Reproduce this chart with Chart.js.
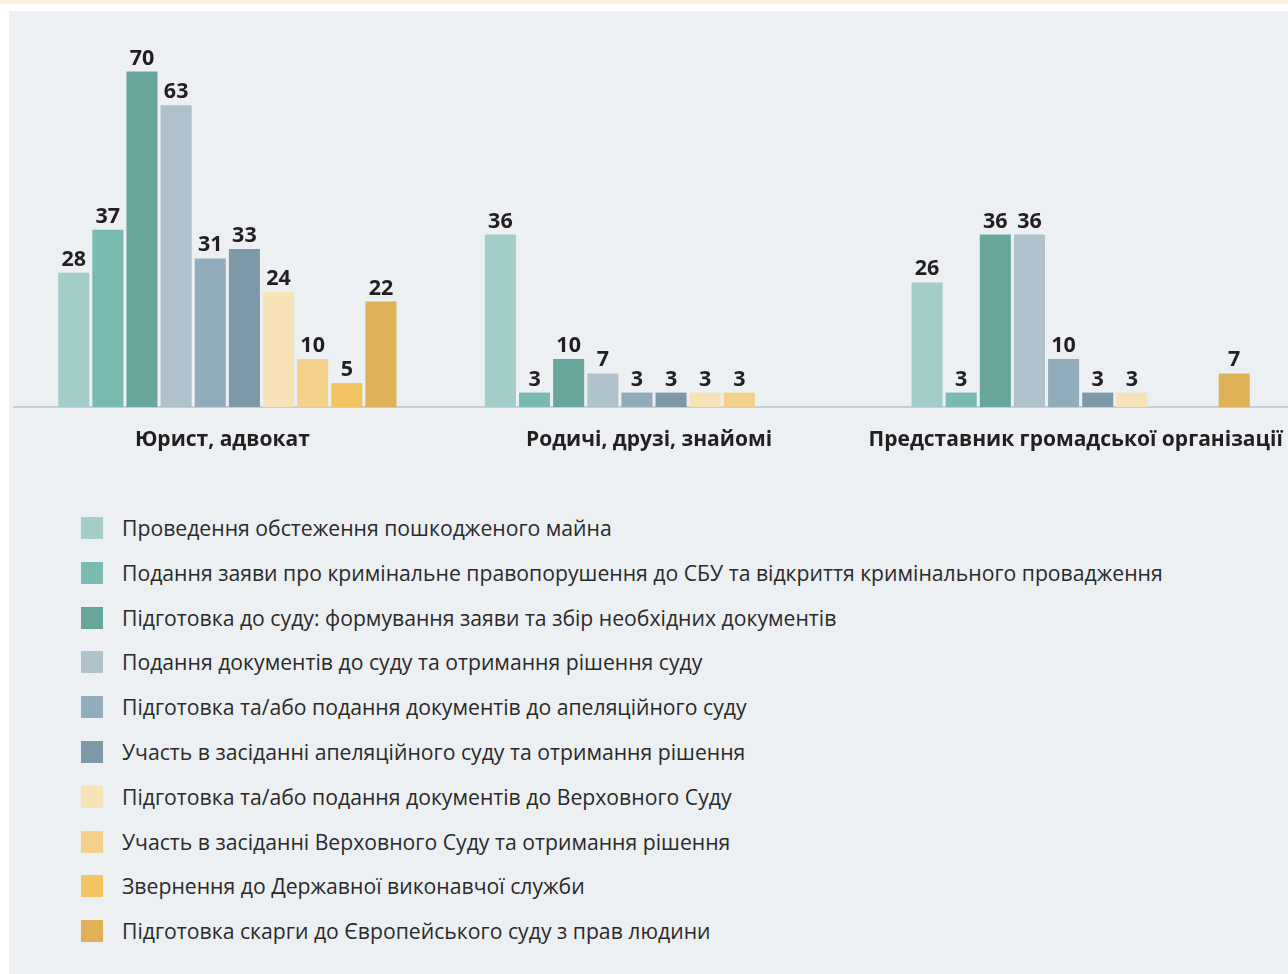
<!DOCTYPE html>
<html>
<head>
<meta charset="utf-8">
<script src="https://cdn.jsdelivr.net/npm/chart.js@4/dist/chart.umd.min.js"></script>
<style>
  html, body { margin: 0; padding: 0; width: 1288px; height: 974px; overflow: hidden; background: #ffffff; }
  #strip { position: absolute; left: 0; top: 0; width: 1288px; height: 4px; background: #fbf1dc; }
  #panel { position: absolute; left: 9px; top: 11px; width: 1279px; height: 963px; background: #edf0f3; }
  #wrap { position: absolute; left: 0; top: 0; width: 1300px; height: 470px; }
  #legend { position: absolute; left: 81px; top: 517px; margin: 0; padding: 0; list-style: none;
            font-family: 'Open Sans', sans-serif; font-size: 21.2px; color: #2a2a2a; }
  #legend li { height: 44.8px; display: flex; align-items: flex-start; white-space: nowrap; }
  #legend .box { width: 22px; height: 22px; margin-right: 19px; flex: none; }
  #legend .txt { line-height: 22px; }
</style>
</head>
<body>
<div id="strip"></div>
<div id="panel"></div>
<div id="wrap"><canvas id="c" width="1300" height="470"></canvas></div>
<ul id="legend"></ul>
<script>
const categories = ['Юрист, адвокат', 'Родичі, друзі, знайомі', 'Представник громадської організації'];

const seriesNames = [
  'Проведення обстеження пошкодженого майна',
  'Подання заяви про кримінальне правопорушення до СБУ та відкриття кримінального провадження',
  'Підготовка до суду: формування заяви та збір необхідних документів',
  'Подання документів до суду та отримання рішення суду',
  'Підготовка та/або подання документів до апеляційного суду',
  'Участь в засіданні апеляційного суду та отримання рішення',
  'Підготовка та/або подання документів до Верховного Суду',
  'Участь в засіданні Верховного Суду та отримання рішення',
  'Звернення до Державної виконавчої служби',
  'Підготовка скарги до Європейського суду з прав людини'
];

const seriesColors = ['#a2cdc9', '#79bbb0', '#68a69c', '#afc1ca', '#91adbb', '#7d99a8', '#f8e3b9', '#f4d08a', '#f2c462', '#e0b258'];

const survey = [28, 36, 26];
const criminalComplaint = [37, 3, 3];
const courtPreparation = [70, 10, 36];
const courtFiling = [63, 7, 36];
const appealPreparation = [31, 3, 10];
const appealHearing = [33, 3, 3];
const supremePreparation = [24, 3, 3];
const supremeHearing = [10, 3, null];
const enforcementService = [5, null, null];
const echrComplaint = [22, null, 7];

const seriesValues = [survey, criminalComplaint, courtPreparation, courtFiling, appealPreparation,
  appealHearing, supremePreparation, supremeHearing, enforcementService, echrComplaint];

const valueLabels = {
  id: 'valueLabels',
  afterDatasetsDraw(chart) {
    const ctx = chart.ctx;
    ctx.save();
    ctx.font = 'bold 21.5px "Open Sans", sans-serif';
    ctx.fillStyle = '#231f20';
    ctx.textAlign = 'center';
    ctx.textBaseline = 'alphabetic';
    chart.data.datasets.forEach((ds, i) => {
      const meta = chart.getDatasetMeta(i);
      meta.data.forEach((bar, j) => {
        const v = ds.data[j];
        if (v === null || v === undefined) return;
        ctx.fillText(String(v), bar.x, bar.y - 7);
      });
    });
    ctx.restore();
  }
};

const chart = new Chart(document.getElementById('c'), {
  type: 'bar',
  data: {
    labels: categories,
    datasets: seriesNames.map((name, i) => ({
      label: name,
      data: seriesValues[i],
      backgroundColor: seriesColors[i],
      borderWidth: 0,
      categoryPercentage: 0.8,
      barPercentage: 0.91
    }))
  },
  options: {
    responsive: false,
    animation: false,
    devicePixelRatio: 1,
    layout: { padding: { left: 14, right: 6, top: 62, bottom: 0 } },
    plugins: { legend: { display: false }, tooltip: { enabled: false } },
    scales: {
      x: {
        z: 1,
        grid: { display: false, drawTicks: false },
        border: { display: true, color: '#c5cfd7', width: 2 },
        ticks: {
          color: '#231f20',
          font: { family: '"Open Sans", sans-serif', size: 21, weight: 'bold' },
          padding: 20,
          labelOffset: -5,
          maxRotation: 0,
          autoSkip: false
        },
        afterFit: (scale) => { scale.height = 63; scale.paddingLeft = 0; scale.paddingRight = 0; }
      },
      y: {
        display: false,
        min: 0,
        max: 72
      }
    }
  },
  plugins: [valueLabels]
});

const legend = document.getElementById('legend');
chart.data.datasets.forEach(ds => {
  const li = document.createElement('li');
  const box = document.createElement('span');
  box.className = 'box';
  box.style.background = ds.backgroundColor;
  const txt = document.createElement('span');
  txt.className = 'txt';
  txt.textContent = ds.label;
  li.appendChild(box);
  li.appendChild(txt);
  legend.appendChild(li);
});
</script>
</body>
</html>
